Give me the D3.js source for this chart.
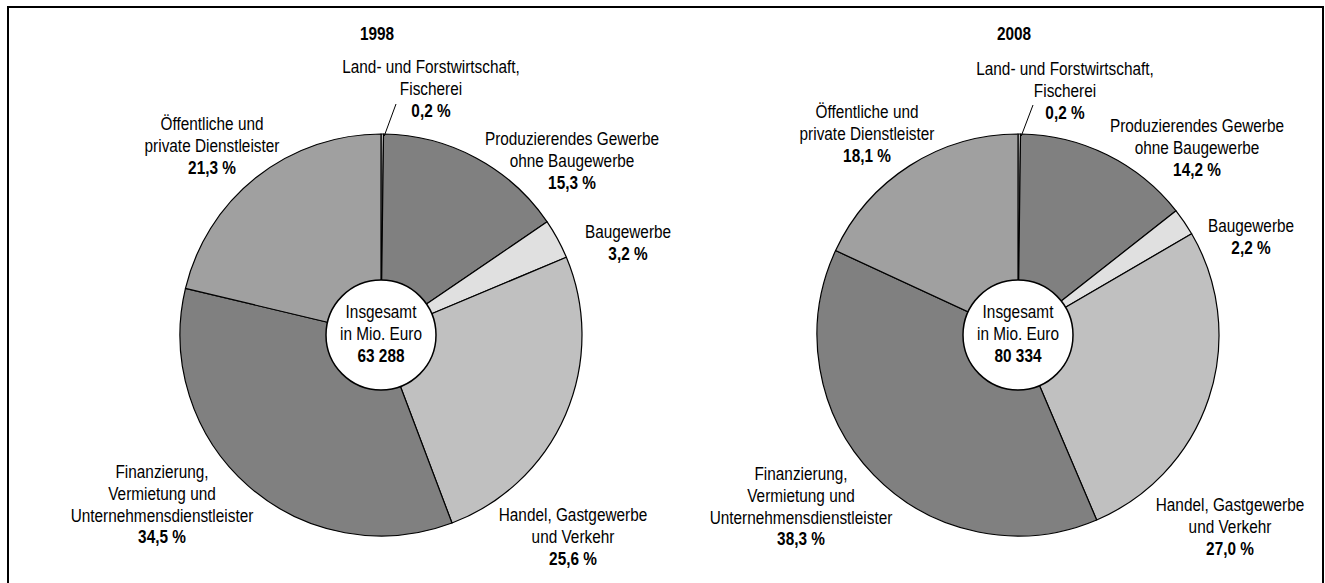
<!DOCTYPE html>
<html>
<head>
<meta charset="utf-8">
<script src="https://cdn.jsdelivr.net/npm/d3@7"></script>
<style>
  body { margin: 0; background: #fff; }
  text { font-family: "Liberation Sans", Arial, sans-serif; font-size: 18.5px; fill: #000; }
</style>
</head>
<body>
<div id="chart"></div>
<script>
// data
const categories = [
  "Land- und Forstwirtschaft, Fischerei",
  "Produzierendes Gewerbe ohne Baugewerbe",
  "Baugewerbe",
  "Handel, Gastgewerbe und Verkehr",
  "Finanzierung, Vermietung und Unternehmensdienstleister",
  "Öffentliche und private Dienstleister"
];
const labelLines = [
  ["Land- und Forstwirtschaft,", "Fischerei"],
  ["Produzierendes Gewerbe", "ohne Baugewerbe"],
  ["Baugewerbe"],
  ["Handel, Gastgewerbe", "und Verkehr"],
  ["Finanzierung,", "Vermietung und", "Unternehmensdienstleister"],
  ["Öffentliche und", "private Dienstleister"]
];
const years = ["1998", "2008"];
const values1998 = [0.2, 15.3, 3.2, 25.6, 34.5, 21.3];
const values2008 = [0.2, 14.2, 2.2, 27.0, 38.3, 18.1];
const totals = ["63 288", "80 334"];
const totalLines = ["Insgesamt", "in Mio. Euro"];
const colors = ["#e4e4e4", "#808080", "#e0e0e0", "#c0c0c0", "#808080", "#a0a0a0"];

// layout
const W = 1325, H = 583;
const R = 201, r0 = 55;
const centers = [[381, 335], [1018, 335]];
// label offsets from pie centre (first line)
const labelPos = [
  [[50, -266], [191, -194], [247, -101], [192, 182], [-219, 139], [-169, -209]],
  [[47, -264], [179, -207], [233, -107], [212, 172], [-217, 141], [-151, -221]]
];
const leaderEnd = [[15, -231], [15, -230]];
const lh = 21.6;
const narrow = 0.83; // no Arial Narrow installed: squeeze Liberation Sans

const svg = d3.select("#chart").append("svg")
  .attr("width", W).attr("height", H);

svg.append("rect")
  .attr("x", 8).attr("y", 7)
  .attr("width", 1315).attr("height", 600)
  .attr("fill", "none").attr("stroke", "#000").attr("stroke-width", 2);

const pie = d3.pie().sort(null).value(d => d);
const arc = d3.arc().innerRadius(0).outerRadius(R);

function label(g, x, y, lines, boldLine) {
  const t = g.append("text")
    .attr("transform", "translate(" + x + "," + y + ") scale(" + narrow + ",1)")
    .attr("text-anchor", "middle")
    .attr("dominant-baseline", "middle");
  lines.forEach((line, j) => {
    t.append("tspan").attr("x", 0).attr("y", j * lh).text(line);
  });
  if (boldLine != null) {
    t.append("tspan").attr("x", 0).attr("y", lines.length * lh)
      .style("font-weight", "bold").text(boldLine);
  }
  return t;
}

[values1998, values2008].forEach((vals, k) => {
  const g = svg.append("g")
    .attr("transform", "translate(" + centers[k][0] + "," + centers[k][1] + ")");

  const arcs = pie(vals);

  g.selectAll("path")
    .data(arcs)
    .enter()
    .append("path")
    .attr("d", arc)
    .attr("fill", (d, i) => colors[i])
    .attr("stroke", "#000")
    .attr("stroke-width", 1.2)
    .attr("stroke-linejoin", "round");

  // title
  label(g, -4, -299, [], years[k]);

  // leader for small slice
  const a0 = (arcs[0].startAngle + arcs[0].endAngle) / 2;
  g.append("line")
    .attr("x1", Math.sin(a0) * (R - 2) + 2)
    .attr("y1", -Math.cos(a0) * (R - 2))
    .attr("x2", leaderEnd[k][0])
    .attr("y2", leaderEnd[k][1])
    .attr("stroke", "#000")
    .attr("stroke-width", 1);

  // labels
  arcs.forEach((d, i) => {
    const p = labelPos[k][i];
    label(g, p[0], p[1], labelLines[i],
      d3.format(".1f")(vals[i]).replace(".", ",") + " %");
  });

  // centre
  g.append("circle")
    .attr("r", r0)
    .attr("fill", "#fff")
    .attr("stroke", "#000")
    .attr("stroke-width", 1.5);

  label(g, 0, -21, totalLines, totals[k]);
});
</script>
</body>
</html>
